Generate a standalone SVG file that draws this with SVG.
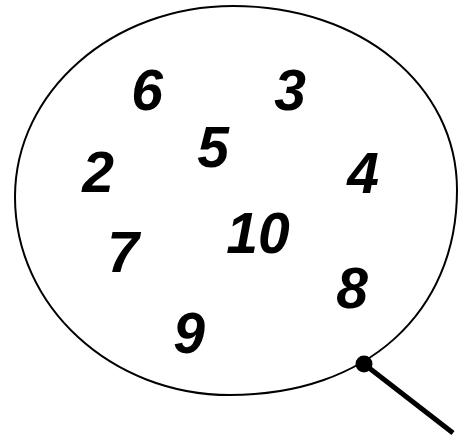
<svg xmlns="http://www.w3.org/2000/svg" width="458" height="438" viewBox="0 0 458 438">
<style>
.n{font-family:"Liberation Sans",Arial,sans-serif;font-weight:bold;font-style:italic;font-size:57px;fill:#000;text-anchor:middle}
</style>
<rect width="458" height="438" fill="#fff"/>
<g id="set">
<path d="M233,6 C360.7,6 457,85.1 457,190 C457,313 366.2,395 230,395 C111.3,395 15,306.4 15,197 C15,91.5 112.6,6 233,6 Z" fill="none" stroke="#000" stroke-width="2"/>
</g>
<g id="n6"><text class="n" x="147" y="110">6</text></g>
<g id="n3"><text class="n" x="290" y="110">3</text></g>
<g id="n5"><text class="n" x="213" y="167">5</text></g>
<g id="n2"><text class="n" x="98" y="192">2</text></g>
<g id="n4"><text class="n" x="363" y="193">4</text></g>
<g id="n10"><text class="n" x="258" y="253">10</text></g>
<g id="n7"><text class="n" x="123" y="272">7</text></g>
<g id="n8"><text class="n" x="352" y="308">8</text></g>
<g id="n9"><text class="n" x="189" y="353">9</text></g>
<g id="connectors">
<line x1="364" y1="364" x2="453" y2="433" stroke="#000" stroke-width="5"/>
<circle cx="364" cy="364" r="8.5" fill="#000"/>
</g>
</svg>
